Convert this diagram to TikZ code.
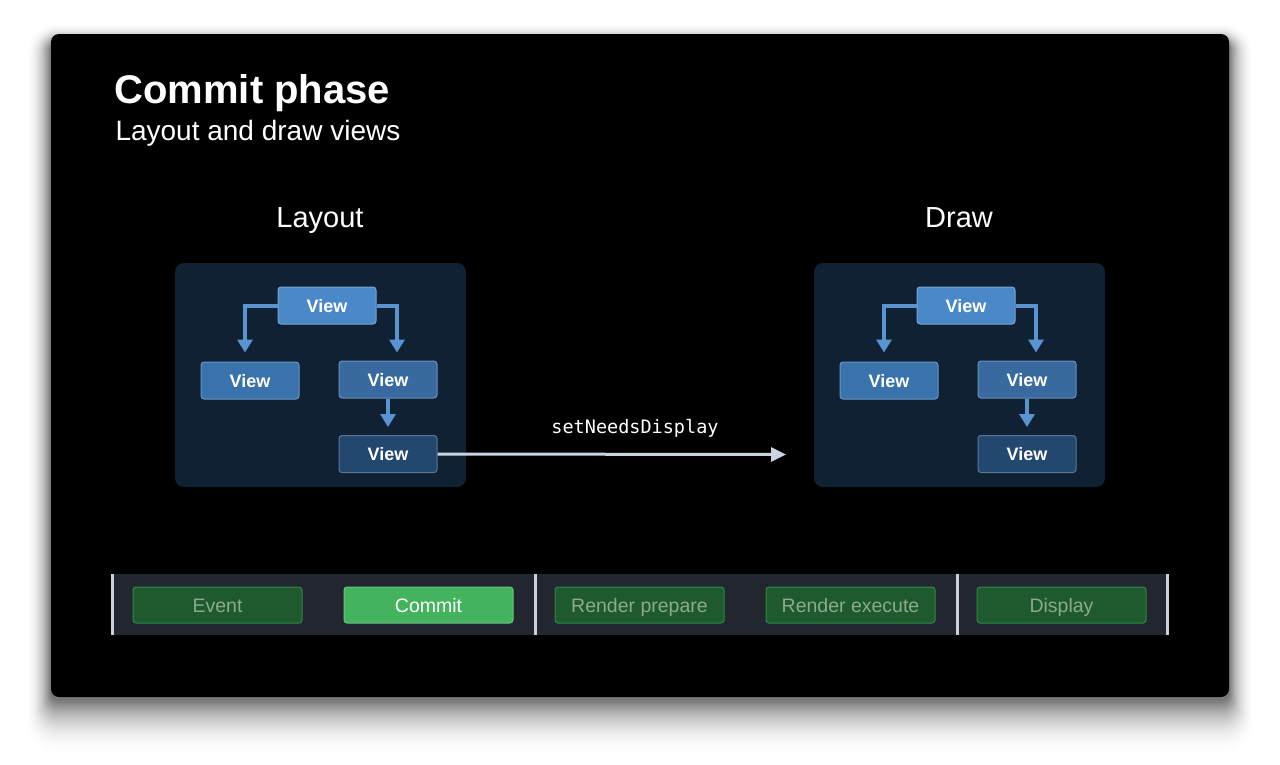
\documentclass[tikz,border=0pt]{standalone}
\usepackage{fontspec}
\setmainfont{Liberation Sans}
\newfontfamily\monofnt{DejaVu Sans Mono}
\usetikzlibrary{arrows.meta}
\definecolor{boxbg}{HTML}{0F2133}
\definecolor{vtop}{HTML}{4A88C7}
\definecolor{vleft}{HTML}{3A72AC}
\definecolor{vright}{HTML}{396A9F}
\definecolor{vbot}{HTML}{234870}
\definecolor{arrblue}{HTML}{5A94D0}
\definecolor{snd}{HTML}{C9D4E0}
\definecolor{band}{HTML}{22272F}
\definecolor{sep}{HTML}{C8D0DA}
\definecolor{gdark}{HTML}{1E5A2E}
\definecolor{gdarkb}{HTML}{2F8A45}
\definecolor{gtext}{HTML}{8AAB90}
\definecolor{glight}{HTML}{44B35E}
\tikzset{
  viewbox/.style={draw=#1!75!white, line width=1pt, fill=#1, rounded corners=3pt,
    minimum width=98pt, minimum height=37pt, inner sep=0pt, text=white,
    text height=13pt, text depth=0pt,
    font=\fontsize{18}{22}\selectfont\bfseries},
  treearr/.style={draw=arrblue, line width=4pt, -{Triangle[width=15pt,length=13pt]}},
  phasebtn/.style={draw=gdarkb, line width=1pt, fill=gdark, rounded corners=3pt,
    minimum width=169pt, minimum height=36pt, inner sep=0pt, text=gtext,
    text height=14pt, text depth=0pt,
    font=\fontsize{19.5}{23}\selectfont},
  activebtn/.style={phasebtn, draw=glight!80!white, fill=glight, text=white},
  panelbox/.style={fill=boxbg, rounded corners=9pt},
  sepline/.style={draw=sep, line width=3pt},
}
\begin{document}
\begin{tikzpicture}[x=1pt,y=-1pt]
\useasboundingbox (0,0) rectangle (1280,764);
\fill[white] (0,0) rectangle (1280,764);
% soft shadow, opaque layers from light (outer) to dark (inner)
\foreach \i in {44,43,...,1}{
  \pgfmathsetmacro{\rc}{8+0.6*\i}
  \pgfmathsetmacro{\dk}{55*(1-\i/44)^2.2}
  \fill[black!\dk!white, rounded corners=\rc pt]
    (51-0.6*\i, 42-0.45*\i) rectangle (1229+0.6*\i, 700+1.3*\i);
}
\fill[black, rounded corners=8pt] (51,34) rectangle (1229,697);

\node[anchor=base west, text=white, font=\fontsize{40}{46}\selectfont\bfseries] (title) at (111,103) {Commit phase};
\node[anchor=base west, text=white, font=\fontsize{28}{32}\selectfont] (subtitle) at (112,140) {Layout and draw views};

\node[anchor=base, text=white, font=\fontsize{29}{34}\selectfont] (laytitle) at (320,227) {Layout};
\node[anchor=base, text=white, font=\fontsize{29}{34}\selectfont] (drawtitle) at (959,227) {Draw};

% Layout panel
\fill[panelbox] (175,263) rectangle (466,487);
\node[viewbox=vtop] (lt) at (327,305.5) {View};
\node[viewbox=vleft] (ll) at (250,380.5) {View};
\node[viewbox=vright] (lr) at (388,379.5) {View};
\node[viewbox=vbot] (lb) at (388,454) {View};
\draw[treearr, shorten >=9pt] (lt.west) -| ([xshift=-5pt]ll.north);
\draw[treearr, shorten >=8pt] (lt.east) -| ([xshift=9pt]lr.north);
\draw[treearr, shorten >=8pt] (lr.south) -- (lb.north);

% Draw panel
\fill[panelbox] (814,263) rectangle (1105,487);
\node[viewbox=vtop] (dt) at (966,305.5) {View};
\node[viewbox=vleft] (dl) at (889,380.5) {View};
\node[viewbox=vright] (dr) at (1027,379.5) {View};
\node[viewbox=vbot] (db) at (1027,454) {View};
\draw[treearr, shorten >=9pt] (dt.west) -| ([xshift=-5pt]dl.north);
\draw[treearr, shorten >=8pt] (dt.east) -| ([xshift=9pt]dr.north);
\draw[treearr, shorten >=8pt] (dr.south) -- (db.north);

% setNeedsDisplay arrow
\coordinate (sndend) at (786,454.5);
\draw[draw=snd, line width=3pt, -{Triangle[width=14pt,length=15pt]}] (lb.east) -- (sndend);
\node[anchor=base, text=white, font=\monofnt\fontsize{18.5}{22}\selectfont] (sndlabel) at (635,433) {setNeedsDisplay};

% Bottom band
\fill[band] (111,574) rectangle (1169,635);
\draw[sepline] (112.5,574) -- (112.5,635);
\draw[sepline] (535.5,574) -- (535.5,635);
\draw[sepline] (957,574) -- (957,635);
\draw[sepline] (1167.5,574) -- (1167.5,635);
\node[phasebtn] (ev) at (217.5,605) {Event};
\node[activebtn] (cm) at (428.5,605) {Commit};
\node[phasebtn] (rp) at (639.5,605) {Render prepare};
\node[phasebtn] (re) at (850.5,605) {Render execute};
\node[phasebtn] (dp) at (1061.5,605) {Display};
\end{tikzpicture}
\end{document}
